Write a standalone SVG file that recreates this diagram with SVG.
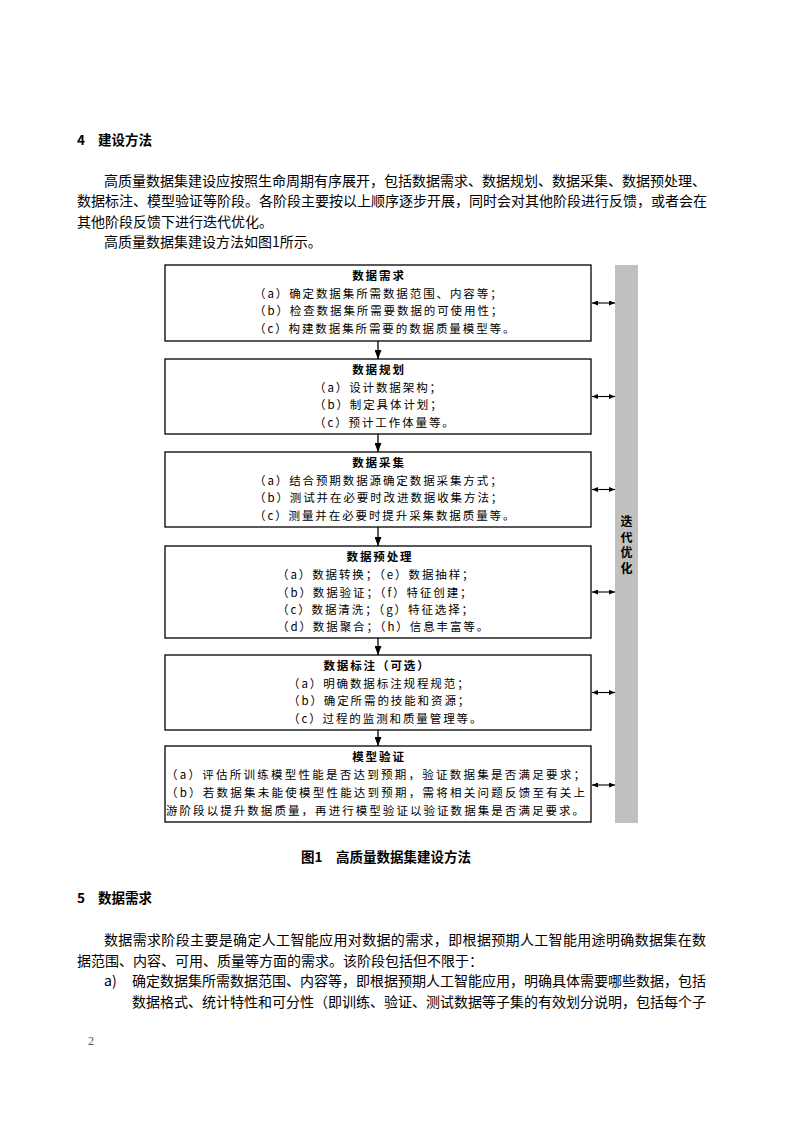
<svg xmlns="http://www.w3.org/2000/svg" width="794" height="1123" viewBox="0 0 794 1123">
<style>
.body{font-family:"Noto Sans CJK SC","Liberation Sans",sans-serif;font-size:14px;fill:#000}
.head{font-family:"Noto Sans CJK SC","Liberation Sans",sans-serif;font-size:13.5px;font-weight:bold;fill:#000}
.box{fill:#fff;stroke:#000;stroke-width:1.3}
.bt{font-family:"Noto Sans CJK SC","Liberation Sans",sans-serif;font-size:11.5px;letter-spacing:1.9px;fill:#000}
.tt{font-family:"Noto Sans CJK SC","Liberation Sans",sans-serif;font-size:11.5px;letter-spacing:1.9px;font-weight:bold;fill:#000;text-anchor:middle}
.down{stroke:#000;stroke-width:1.3;fill:none;marker-end:url(#dh)}
.both{stroke:#000;stroke-width:1.1;fill:none;marker-start:url(#sh);marker-end:url(#sh)}
.bar{fill:#c0c0c0}
.vt{font-family:"Noto Sans CJK SC","Liberation Sans",sans-serif;font-size:12px;font-weight:bold;fill:#000;text-anchor:middle}
</style>
<defs>
<marker id="dh" viewBox="0 0 9 7" refX="9" refY="3.5" markerWidth="9" markerHeight="7" markerUnits="userSpaceOnUse" orient="auto"><path d="M0,0 L9,3.5 L0,7 z" fill="#000"/></marker>
<marker id="sh" viewBox="0 0 6 5" refX="6" refY="2.5" markerWidth="6" markerHeight="5" markerUnits="userSpaceOnUse" orient="auto-start-reverse"><path d="M0,0 L6,2.5 L0,5 z" fill="#000"/></marker>
</defs>
<rect width="794" height="1123" fill="#fff"/>

<g id="text-top">
<text class="head" x="77" y="145">4</text>
<text class="head" x="98" y="145">建设方法</text>
<text class="body" x="104" y="186">高质量数据集建设应按照生命周期有序展开，包括数据需求、数据规划、数据采集、数据预处理、</text>
<text class="body" x="77" y="206">数据标注、模型验证等阶段。各阶段主要按以上顺序逐步开展，同时会对其他阶段进行反馈，或者会在</text>
<text class="body" x="77" y="226.5">其他阶段反馈下进行迭代优化。</text>
<text class="body" x="104" y="247">高质量数据集建设方法如图1所示。</text>
</g>

<g id="bar">
<rect class="bar" x="615" y="265" width="23" height="558"/>
<text class="vt" x="626.5" y="526">迭</text>
<text class="vt" x="626.5" y="541.5">代</text>
<text class="vt" x="626.5" y="557">优</text>
<text class="vt" x="626.5" y="572.5">化</text>
</g>

<g id="node1">
<rect class="box" x="165" y="265" width="426" height="76"/>
<text class="tt" x="379" y="280">数据需求</text>
<text class="bt" x="254" y="297.5">（a）确定数据集所需数据范围、内容等；</text>
<text class="bt" x="254" y="315">（b）检查数据集所需要数据的可使用性；</text>
<text class="bt" x="254" y="332.5">（c）构建数据集所需要的数据质量模型等。</text>
</g>

<g id="node2">
<rect class="box" x="165" y="359" width="426" height="75"/>
<text class="tt" x="379" y="374">数据规划</text>
<text class="bt" x="314" y="391.5">（a）设计数据架构；</text>
<text class="bt" x="314" y="409">（b）制定具体计划；</text>
<text class="bt" x="314" y="426.5">（c）预计工作体量等。</text>
</g>

<g id="node3">
<rect class="box" x="165" y="452" width="426" height="75"/>
<text class="tt" x="379" y="467">数据采集</text>
<text class="bt" x="254" y="484.5">（a）结合预期数据源确定数据采集方式；</text>
<text class="bt" x="254" y="502">（b）测试并在必要时改进数据收集方法；</text>
<text class="bt" x="254" y="519.5">（c）测量并在必要时提升采集数据质量等。</text>
</g>

<g id="node4">
<rect class="box" x="165" y="546" width="426" height="92"/>
<text class="tt" x="380" y="561">数据预处理</text>
<text class="bt" x="277" y="579">（a）数据转换；（e）数据抽样；</text>
<text class="bt" x="277" y="597">（b）数据验证；（f）特征创建；</text>
<text class="bt" x="277" y="614">（c）数据清洗；（g）特征选择；</text>
<text class="bt" x="277" y="631">（d）数据聚合；（h）信息丰富等。</text>
</g>

<g id="node5">
<rect class="box" x="165" y="655" width="426" height="75"/>
<text class="tt" x="377" y="670">数据标注（可选）</text>
<text class="bt" x="288" y="687.5">（a）明确数据标注规程规范；</text>
<text class="bt" x="288" y="705">（b）确定所需的技能和资源；</text>
<text class="bt" x="288" y="722.5">（c）过程的监测和质量管理等。</text>
</g>

<g id="node6">
<rect class="box" x="165" y="746" width="426" height="76"/>
<text class="tt" x="379" y="761">模型验证</text>
<text class="bt" x="166" y="779" textLength="421" lengthAdjust="spacing">（a）评估所训练模型性能是否达到预期，验证数据集是否满足要求；</text>
<text class="bt" x="166" y="797" textLength="421" lengthAdjust="spacing">（b）若数据集未能使模型性能达到预期，需将相关问题反馈至有关上</text>
<text class="bt" x="166" y="815" textLength="420" lengthAdjust="spacing">游阶段以提升数据质量，再进行模型验证以验证数据集是否满足要求。</text>
</g>

<g id="connectors">
<line class="down" x1="378" y1="341" x2="378" y2="359"/>
<line class="down" x1="378" y1="434" x2="378" y2="452"/>
<line class="down" x1="378" y1="527" x2="378" y2="546"/>
<line class="down" x1="378" y1="638" x2="378" y2="655"/>
<line class="down" x1="378" y1="730" x2="378" y2="746"/>
<line class="both" x1="592" y1="303" x2="615" y2="303"/>
<line class="both" x1="592" y1="396.5" x2="615" y2="396.5"/>
<line class="both" x1="592" y1="489.5" x2="615" y2="489.5"/>
<line class="both" x1="592" y1="592" x2="615" y2="592"/>
<line class="both" x1="592" y1="692.5" x2="615" y2="692.5"/>
<line class="both" x1="592" y1="785" x2="615" y2="785"/>
</g>

<g id="text-bottom">
<text class="head" x="301" y="862">图1</text>
<text class="head" x="336" y="862">高质量数据集建设方法</text>
<text class="head" x="77" y="903">5</text>
<text class="head" x="98" y="903">数据需求</text>
<text class="body" x="104" y="945" textLength="602" lengthAdjust="spacing">数据需求阶段主要是确定人工智能应用对数据的需求，即根据预期人工智能用途明确数据集在数</text>
<text class="body" x="77" y="965.5">据范围、内容、可用、质量等方面的需求。该阶段包括但不限于：</text>
<text class="body" x="104" y="986">a)</text>
<text class="body" x="132" y="986" textLength="574" lengthAdjust="spacing">确定数据集所需数据范围、内容等，即根据预期人工智能应用，明确具体需要哪些数据，包括</text>
<text class="body" x="132" y="1007" textLength="574" lengthAdjust="spacing">数据格式、统计特性和可分性（即训练、验证、测试数据等子集的有效划分说明，包括每个子</text>
<text x="88" y="1045" style="font-family:'Liberation Serif',serif;font-size:12px;fill:#555">2</text>
</g>
</svg>
